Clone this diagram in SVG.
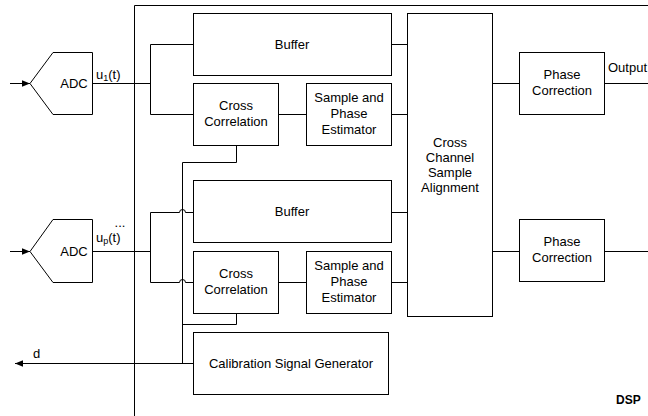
<svg xmlns="http://www.w3.org/2000/svg" width="648" height="416" viewBox="0 0 648 416">
<defs>
<style>
text{font-family:"Liberation Sans",Arial,sans-serif;font-size:13px;fill:#000}
.c{text-anchor:middle}
.box{fill:#fff;stroke:#000;stroke-width:1}
.ln{fill:none;stroke:#000;stroke-width:1}
.b{font-weight:bold}
.sub{font-size:9px}
</style>
<marker id="ah" viewBox="0 0 10 10" refX="10" refY="5" markerWidth="8" markerHeight="8" markerUnits="userSpaceOnUse" orient="auto">
<path d="M0,1 L10,5 L0,9 Z" fill="#000"/>
</marker>
</defs>
<rect width="648" height="416" fill="#fff"/>

<g id="dsp">
<path class="ln" d="M134.5,416 V5.5 H648"/>
<text class="b" x="616" y="404" style="font-size:12px">DSP</text>
</g>

<g id="connectors">
<path class="ln" d="M10,83.5 H30" marker-end="url(#ah)"/>
<path class="ln" d="M10,251.5 H30" marker-end="url(#ah)"/>
<path class="ln" d="M92,83.5 H150.5"/>
<path class="ln" d="M193,44.5 H150.5 V114.5 H193"/>
<path class="ln" d="M279,114.5 H306"/>
<path class="ln" d="M391,114.5 H407"/>
<path class="ln" d="M391,44.5 H407"/>
<path class="ln" d="M492,83.5 H519"/>
<path class="ln" d="M605,83.5 H648"/>
<path class="ln" d="M92,251.5 H150.5"/>
<path class="ln" d="M193,212.5 H185.5 A3,3 0 0 0 179.5,212.5 H150.5 V282.5 H179.5 A3,3 0 0 1 185.5,282.5 H193"/>
<path class="ln" d="M279,282.5 H306"/>
<path class="ln" d="M391,282.5 H407"/>
<path class="ln" d="M391,212.5 H407"/>
<path class="ln" d="M492,251.5 H519"/>
<path class="ln" d="M605,251.5 H648"/>
<path class="ln" d="M236.5,145 V162.5 H182.5 V363.5"/>
<path class="ln" d="M236.5,313 V324.5 H182.5"/>
<path class="ln" d="M193,363.5 H15" marker-end="url(#ah)"/>
<text x="96" y="79">u<tspan class="sub" dy="2">1</tspan><tspan dy="-2">(t)</tspan></text>
<text x="96" y="242">u<tspan class="sub" dy="2">p</tspan><tspan dy="-2">(t)</tspan></text>
<text x="120" y="227" class="c">...</text>
<text x="608" y="72">Output</text>
<text x="33" y="358">d</text>
</g>

<g id="adc1">
<path class="box" d="M30,83.5 L53,52.5 H92.5 V114.5 H53 Z"/>
<text class="c" x="74" y="88">ADC</text>
</g>
<g id="adc2">
<path class="box" d="M30,251.5 L53,219.5 H92.5 V282.5 H53 Z"/>
<text class="c" x="74" y="256">ADC</text>
</g>

<g id="buffer1">
<rect class="box" x="193.5" y="13.5" width="198" height="62"/>
<text class="c" x="292" y="49">Buffer</text>
</g>
<g id="crosscorr1">
<rect class="box" x="193.5" y="83.5" width="85" height="62"/>
<text class="c" x="236" y="110">Cross</text>
<text class="c" x="236" y="126">Correlation</text>
</g>
<g id="spe1">
<rect class="box" x="306.5" y="83.5" width="85" height="62"/>
<text class="c" x="349" y="102">Sample and</text>
<text class="c" x="349" y="118">Phase</text>
<text class="c" x="349" y="134">Estimator</text>
</g>

<g id="buffer2">
<rect class="box" x="193.5" y="180.5" width="198" height="62"/>
<text class="c" x="292" y="216">Buffer</text>
</g>
<g id="crosscorr2">
<rect class="box" x="193.5" y="251.5" width="85" height="62"/>
<text class="c" x="236" y="278">Cross</text>
<text class="c" x="236" y="294">Correlation</text>
</g>
<g id="spe2">
<rect class="box" x="306.5" y="251.5" width="85" height="62"/>
<text class="c" x="349" y="270">Sample and</text>
<text class="c" x="349" y="286">Phase</text>
<text class="c" x="349" y="302">Estimator</text>
</g>

<g id="ccsa">
<rect class="box" x="407.5" y="13.5" width="85" height="303"/>
<text class="c" x="450" y="147">Cross</text>
<text class="c" x="450" y="162">Channel</text>
<text class="c" x="450" y="177">Sample</text>
<text class="c" x="450" y="192">Alignment</text>
</g>

<g id="phasecorr1">
<rect class="box" x="519.5" y="52.5" width="85" height="62"/>
<text class="c" x="562" y="79">Phase</text>
<text class="c" x="562" y="95">Correction</text>
</g>
<g id="phasecorr2">
<rect class="box" x="519.5" y="219.5" width="85" height="62"/>
<text class="c" x="562" y="246">Phase</text>
<text class="c" x="562" y="262">Correction</text>
</g>

<g id="calgen">
<rect class="box" x="193.5" y="332.5" width="195" height="62"/>
<text class="c" x="291" y="368">Calibration Signal Generator</text>
</g>
</svg>
